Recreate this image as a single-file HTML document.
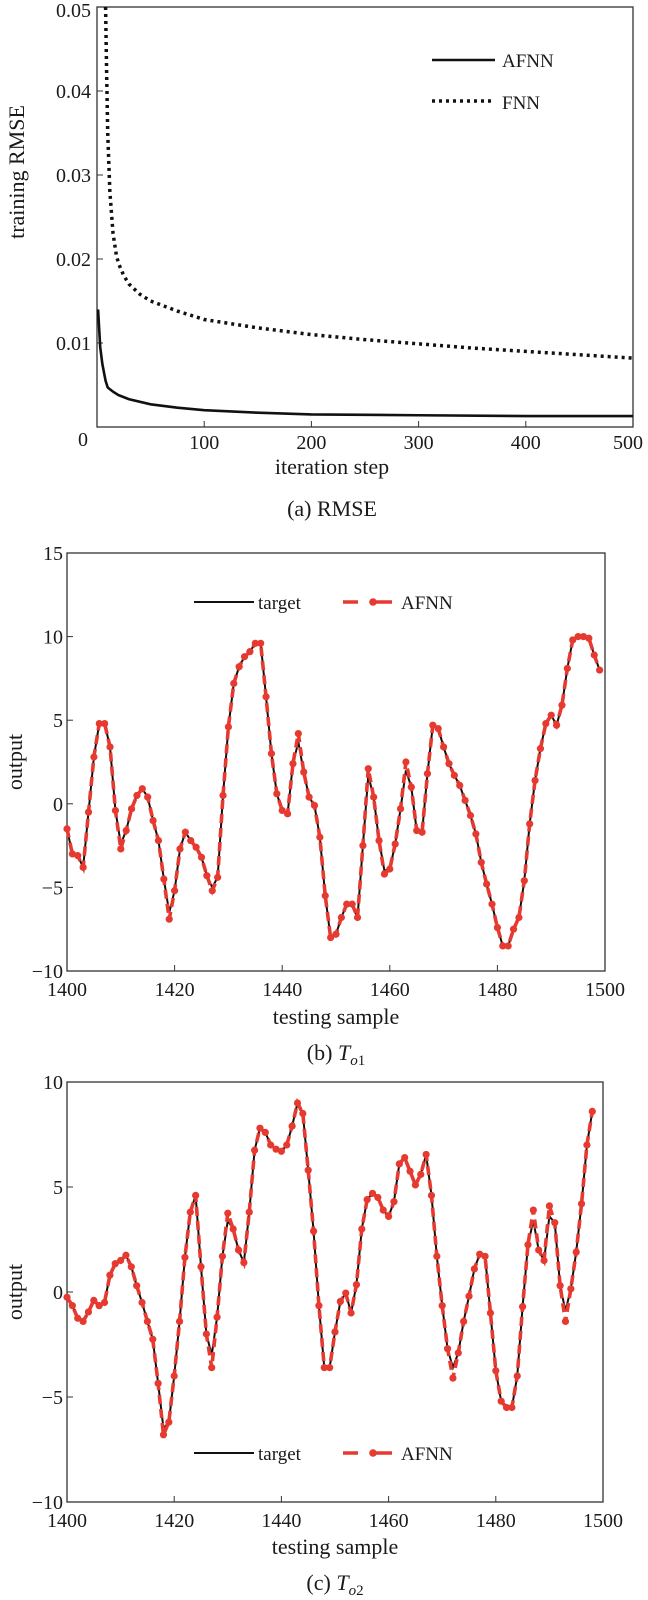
<!DOCTYPE html>
<html><head><meta charset="utf-8">
<style>
html,body{margin:0;padding:0;background:#fff;}
svg{display:block;font-family:"Liberation Serif",serif;}
</style></head>
<body>
<svg id="fig" width="648" height="1600" viewBox="0 0 648 1600" xmlns="http://www.w3.org/2000/svg"></svg>
<script>
// ---------- Chart (a) data ----------
const afnnIter = [1,3,5,8,10,15,20,30,50,75,100,150,200,300,400,500];
const afnnRmse = [0.014,0.0095,0.0075,0.0055,0.0047,0.0042,0.0038,0.0033,0.0027,0.0023,0.002,0.0017,0.0015,0.0014,0.0013,0.0013];
const fnnIter = [8,9,10,12,15,18,20,25,30,40,50,75,100,150,200,250,300,350,400,450,500];
const fnnRmse = [0.05,0.042,0.035,0.028,0.023,0.0205,0.0195,0.018,0.017,0.0158,0.015,0.0138,0.0128,0.0118,0.011,0.0104,0.0099,0.0094,0.009,0.0086,0.0082];
const aXTicks = [100,200,300,400,500];
const aYTicks = [0.01,0.02,0.03,0.04,0.05];
const aYLabels = ["0.01","0.02","0.03","0.04","0.05"];
// ---------- Chart (b) data ----------
const bStart = 1400;
const bAfnn = [-1.5,-3.0,-3.1,-3.8,-0.5,2.8,4.8,4.8,3.4,-0.4,
-2.7,-1.6,-0.3,0.5,0.9,0.4,-1.0,-2.2,-4.5,-6.9,
-5.2,-2.7,-1.7,-2.2,-2.6,-3.2,-4.3,-5.2,-4.4,0.5,
4.6,7.2,8.2,8.8,9.1,9.6,9.6,6.4,3.0,0.6,
-0.4,-0.6,2.4,4.2,1.9,0.4,-0.1,-2.0,-5.5,-8.0,
-7.8,-6.8,-6.0,-6.0,-6.8,-2.5,2.1,0.4,-2.2,-4.2,
-3.9,-2.4,-0.3,2.5,1.0,-1.6,-1.7,1.8,4.7,4.5,
3.4,2.4,1.7,1.1,0.2,-0.7,-1.8,-3.5,-4.8,-6.0,
-7.4,-8.5,-8.5,-7.5,-6.8,-4.6,-1.2,1.4,3.3,4.8,
5.3,4.7,5.9,8.1,9.8,10.0,10.0,9.9,8.9,8.0];
const bTarget = [-1.5,-3.0,-3.1,-3.8,-0.5,2.8,4.8,4.8,3.4,-0.4,
-2.4,-1.6,-0.3,0.5,0.9,0.4,-1.0,-2.2,-4.5,-6.5,
-5.2,-2.7,-1.7,-2.2,-2.6,-3.2,-4.3,-5.0,-4.4,0.5,
4.6,7.2,8.2,8.8,9.1,9.6,9.6,6.4,3.0,0.6,
-0.4,-0.6,2.4,3.7,1.9,0.4,-0.1,-2.0,-5.5,-8.0,
-7.8,-6.8,-6.0,-6.0,-6.8,-2.5,1.7,0.4,-2.2,-4.0,
-3.9,-2.4,-0.3,2.0,1.0,-1.6,-1.7,1.8,4.7,4.5,
3.4,2.4,1.7,1.1,0.2,-0.7,-1.8,-3.5,-4.8,-6.0,
-7.4,-8.5,-8.5,-7.5,-6.8,-4.6,-1.2,1.4,3.3,4.8,
5.3,4.7,5.9,8.1,9.8,10.0,10.0,9.9,8.9,8.0];
const bXTicks = [1400,1420,1440,1460,1480,1500];
const bYTicks = [-10,-5,0,5,10,15];
// ---------- Chart (c) data ----------
const cStart = 1400;
const cAfnn = [-0.25,-0.65,-1.25,-1.4,-0.95,-0.4,-0.65,-0.5,0.8,1.35,
1.5,1.75,1.2,0.3,-0.5,-1.4,-2.25,-4.35,-6.8,-6.2,
-4.0,-1.4,1.65,3.8,4.6,1.2,-2.0,-3.6,-1.2,1.7,
3.75,3.0,2.0,1.4,3.8,6.75,7.8,7.6,7.0,6.8,
6.7,7.0,7.9,9.0,8.5,5.8,2.9,-0.65,-3.6,-3.6,
-1.9,-0.45,-0.05,-1.0,0.35,3.0,4.4,4.7,4.5,3.9,
3.6,4.3,6.1,6.4,5.75,5.1,5.6,6.55,4.6,1.7,
-0.65,-2.7,-4.1,-2.9,-1.4,-0.2,1.1,1.8,1.7,-1.0,
-3.75,-5.2,-5.5,-5.5,-4.0,-0.7,2.25,3.9,2.0,1.5,
4.1,3.3,0.3,-1.4,0.15,1.9,4.2,7.0,8.6];
const cTarget = [-0.25,-0.65,-1.25,-1.4,-0.95,-0.4,-0.65,-0.5,0.8,1.35,
1.5,1.75,1.2,0.3,-0.5,-1.4,-2.25,-4.35,-6.5,-6.2,
-4.0,-1.4,1.65,3.8,4.6,1.2,-2.0,-3.0,-1.2,1.7,
3.4,3.0,2.0,1.4,3.8,6.75,7.8,7.6,7.0,6.8,
6.7,7.0,7.9,9.0,8.5,5.8,2.9,-0.65,-3.6,-3.6,
-1.9,-0.45,-0.05,-1.0,0.35,3.0,4.4,4.7,4.5,3.9,
3.6,4.3,6.1,6.4,5.75,5.1,5.6,6.55,4.6,1.7,
-0.65,-2.7,-3.6,-2.9,-1.4,-0.2,1.1,1.8,1.7,-1.0,
-3.75,-5.2,-5.5,-5.5,-4.0,-0.7,2.25,3.4,2.0,1.5,
3.6,3.3,0.3,-0.9,0.15,1.9,4.2,7.0,8.6];
const cXTicks = [1400,1420,1440,1460,1480,1500];
const cYTicks = [-10,-5,0,5,10];

const NS = "http://www.w3.org/2000/svg";
const svg = document.getElementById('fig');
const TICK = 20, TITLE = 22, LEG = 19;
function mk(tag, attrs, parent){
  const e = document.createElementNS(NS, tag);
  for (const k in attrs) e.setAttribute(k, attrs[k]);
  (parent||svg).appendChild(e);
  return e;
}
function txt(x,y,s,size,anchor,parent){
  const t = mk('text',{x:x,y:y,'font-size':size,'text-anchor':anchor||'middle',fill:'#1a1a1a'},parent);
  t.textContent = s;
  return t;
}
function scale(d0,d1,r0,r1){ return v => r0 + (v-d0)/(d1-d0)*(r1-r0); }
function pathD(xs, ys, sx, sy){
  return xs.map((x,i)=>(i?'L':'M')+sx(x).toFixed(2)+','+sy(ys[i]).toFixed(2)).join(' ');
}

// ===== Chart (a) =====
(function(){
  const L=97,R=633,T=7,B=427;
  const sx = scale(0,500,L,R), sy = scale(0,0.05,B,T);
  const g = mk('g',{});
  
  
  const box = mk('rect',{x:L,y:T,width:R-L,height:B-T,fill:'none',stroke:'#333','stroke-width':1.3},g);
  
  
  aXTicks.forEach(v=>{
    const x=sx(v);
    const tk=mk('line',{x1:x,y1:B,x2:x,y2:B-6,stroke:'#333','stroke-width':1},g);
    
    
    const lb=txt(Math.min(x,628),B+22,String(v),TICK,'middle',g);
    
    
  });
  const z=txt(L-14,B+19,'0',TICK,'middle',g);
  
  
  aYTicks.forEach((v,i)=>{
    const y=sy(v);
    const tk=mk('line',{x1:L,y1:y,x2:L+6,y2:y,stroke:'#333','stroke-width':1},g);
    
    
    const lb=txt(L-6,Math.max(y+7,17),aYLabels[i],TICK,'end',g);
    
    
  });
  const fnn=mk('path',{d:pathD(fnnIter,fnnRmse,sx,sy),fill:'none',stroke:'#111','stroke-width':3.5,'stroke-dasharray':'3 4'},g);
  
  
  const af=mk('path',{d:pathD(afnnIter,afnnRmse,sx,sy),fill:'none',stroke:'#111','stroke-width':2.6},g);
  
  
  const lg=mk('g',{},g);
  
  
  mk('line',{x1:432,y1:60,x2:495,y2:60,stroke:'#111','stroke-width':2.6},lg);
  txt(502,67,'AFNN',LEG,'start',lg);
  mk('line',{x1:432,y1:101,x2:495,y2:101,stroke:'#111','stroke-width':3.5,'stroke-dasharray':'3 4'},lg);
  txt(502,109,'FNN',LEG,'start',lg);
  const yt=txt(0,0,'training RMSE',TITLE,'middle',g);
  yt.setAttribute('transform','translate(24,172) rotate(-90)');
  
  
  const xt=txt(332,474,'iteration step',TITLE,'middle',g);
  
  
  const cap=txt(332,516,'(a) RMSE',TITLE,'middle',g);
  
  
})();

function seriesChart(opt){
  const {L,R,T,B,y0,y1,xTicks,yTicks,start,target,afnn,legendY,name,xtY,capY,capLetter,capSub,ytY} = opt;
  const sx = scale(1400,1500,L,R), sy = scale(y0,y1,B,T);
  const g = mk('g',{});
  
  
  const box=mk('rect',{x:L,y:T,width:R-L,height:B-T,fill:'none',stroke:'#333','stroke-width':1.3},g);
  
  
  xTicks.forEach(v=>{
    const x=sx(v);
    const tk=mk('line',{x1:x,y1:B,x2:x,y2:B-6,stroke:'#333','stroke-width':1},g);
    
    
    const lb=txt(x,B+25,String(v),TICK,'middle',g);
    
    
  });
  yTicks.forEach(v=>{
    const y=sy(v);
    const tk=mk('line',{x1:L,y1:y,x2:L+6,y2:y,stroke:'#333','stroke-width':1},g);
    
    
    const lb=txt(L-4,y+7,v<0?'\u2212'+Math.abs(v):String(v),TICK,'end',g);
    
    
  });
  const xs = target.map((_,i)=>start+i);
  const xa = afnn.map((_,i)=>start+i);
  const tl=mk('path',{d:pathD(xs,target,sx,sy),fill:'none',stroke:'#111','stroke-width':2},g);
  
  
  const al=mk('path',{d:pathD(xa,afnn,sx,sy),fill:'none',stroke:'#e63a30','stroke-width':3.6,'stroke-dasharray':'9 5'},g);
  
  
  afnn.forEach((v,i)=>{
    const c=mk('circle',{cx:sx(start+i),cy:sy(v),r:3.6,fill:'#e63a30'},g);
    
    
  });
  const lg=mk('g',{},g);
  
  
  mk('line',{x1:194,y1:legendY,x2:254,y2:legendY,stroke:'#111','stroke-width':2},lg);
  txt(258,legendY+7,'target',LEG,'start',lg);
  mk('line',{x1:343,y1:legendY,x2:392,y2:legendY,stroke:'#e63a30','stroke-width':3.6,'stroke-dasharray':'15 15 20'},lg);
  mk('circle',{cx:373,cy:legendY,r:3.8,fill:'#e63a30'},lg);
  txt(401,legendY+7,'AFNN',LEG,'start',lg);
  const yt=txt(0,0,'output',TITLE,'middle',g);
  yt.setAttribute('transform','translate(22,'+ytY+') rotate(-90)');
  
  
  const xt=txt((L+R)/2,xtY,'testing sample',TITLE,'middle',g);
  
  
  const cap=mk('text',{x:(L+R)/2,y:capY,'font-size':TITLE,'text-anchor':'middle',fill:'#1a1a1a'},g);
  
  
  cap.innerHTML = '(' + capLetter + ')  <tspan font-style="italic">T</tspan><tspan font-style="italic" font-size="15" dy="5">o</tspan><tspan font-size="15">' + capSub + '</tspan>';
}

seriesChart({L:67,R:605,T:553,B:971,y0:-10,y1:15,xTicks:bXTicks,yTicks:bYTicks,start:bStart,
  target:bTarget,afnn:bAfnn,legendY:602,name:'to1-chart',xtY:1024,capY:1060,capLetter:'b',capSub:'1',ytY:762});
seriesChart({L:67,R:603,T:1082,B:1502,y0:-10,y1:10,xTicks:cXTicks,yTicks:cYTicks,start:cStart,
  target:cTarget,afnn:cAfnn,legendY:1453,name:'to2-chart',xtY:1554,capY:1590,capLetter:'c',capSub:'2',ytY:1292});
</script>
</body></html>
